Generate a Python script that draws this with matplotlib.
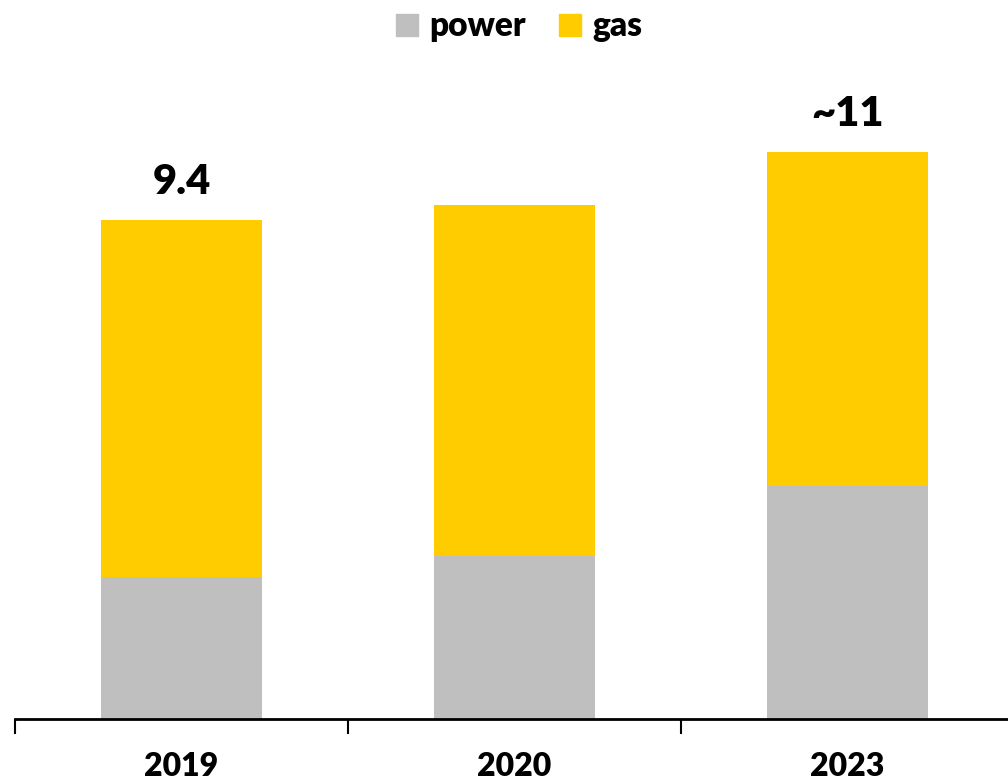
import numpy as np
import matplotlib
matplotlib.use("Agg")
from matplotlib import pyplot as plt
from matplotlib.patches import Patch

# Data
years = ["2019", "2020", "2023"]
power = [2.67, 3.07, 4.39]
gas = [6.73, 6.61, 6.29]
total_labels = ["9.4", "", "~11"]

plt.rcParams["font.family"] = ["Lato", "DejaVu Sans"]
plt.rcParams["font.weight"] = "bold"

fig = plt.figure(figsize=(10.08, 7.84), dpi=100)
ax = fig.add_axes([15 / 1008, (784 - 719) / 784, 999 / 1008, 600 / 784])

x = np.arange(len(years))
ax.bar(x, power, width=0.485, color="#bfbfbf", label="power")
ax.bar(x, gas, width=0.485, bottom=power, color="#ffcc00", label="gas")

totals = np.array(power) + np.array(gas)
for xi, t, lab in zip(x, totals, total_labels):
    if lab:
        ax.text(xi, t + 0.35, lab, ha="center", va="bottom", fontsize=30, fontweight="heavy")

ax.set_xlim(-0.5, 2.5)
ax.set_ylim(0, 600 / 53.1)
ax.set_xticks(x)
ax.set_xticklabels(years, fontsize=23, fontweight="heavy")
ax.set_xticks([-0.5, 0.5, 1.5, 2.5], minor=True)
ax.tick_params(axis="x", which="major", length=0, pad=24)
ax.tick_params(axis="x", which="minor", length=11, width=1.5, direction="out")
ax.set_yticks([])
for s in ["top", "right", "left"]:
    ax.spines[s].set_visible(False)
ax.spines["bottom"].set_linewidth(2)

# Legend
handles = [Patch(color="#bfbfbf", label="power"), Patch(color="#ffcc00", label="gas")]
fig.legend(handles=handles, loc="upper center", bbox_to_anchor=(0.515, 1.025), ncol=2,
           frameon=False, handlelength=0.65, handleheight=0.65,
           handletextpad=0.35, columnspacing=1.0, prop={"weight": "heavy", "size": 24})

fig.savefig("out.png", dpi=100)
